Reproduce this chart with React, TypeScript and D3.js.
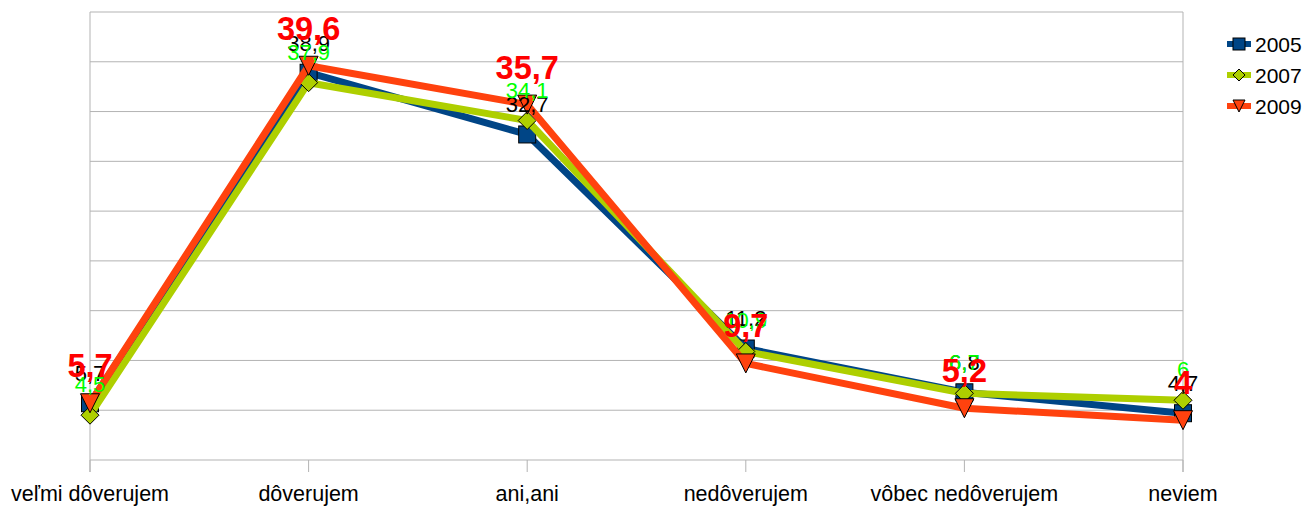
import React from "react";
import * as d3 from "d3";

const categories = ["veľmi dôverujem", "dôverujem", "ani,ani", "nedôverujem", "vôbec nedôverujem", "neviem"];
const years = ["2005", "2007", "2009"];
const values2005 = [5.7, 38.9, 32.7, 11.2, 6.8, 4.7];
const values2007 = [4.5, 37.9, 34.1, 10.9, 6.7, 6];
const values2009 = [5.7, 39.6, 35.7, 9.7, 5.2, 4];
const yTicks = [0, 5, 10, 15, 20, 25, 30, 35, 40, 45];

const W = 1307;
const H = 507;
const plot = { left: 90, right: 1183, top: 12, bottom: 460 };
const FONT = "'Liberation Sans', Arial, sans-serif";

const seriesStyle = [
  { color: "#004586", shape: "square", labelColor: "#000000", labelSize: 22, labelWeight: "normal", labelOffset: 22 },
  { color: "#aecf00", shape: "diamond", labelColor: "#00ff00", labelSize: 22, labelWeight: "normal", labelOffset: 23 },
  { color: "#ff420e", shape: "triangle", labelColor: "#ff0000", labelSize: 32.5, labelWeight: "bold", labelOffset: 26 },
];

function fmt(v: number) {
  return Number.isInteger(v) ? String(v) : String(v).replace(".", ",");
}

function Marker({ shape, x, y, color, s }: { shape: string; x: number; y: number; color: string; s: number }) {
  const h = s / 2;
  if (shape === "square") {
    return <rect x={x - h} y={y - h} width={s} height={s} fill={color} stroke="#000" strokeWidth={1} />;
  }
  if (shape === "diamond") {
    return (
      <path d={`M${x},${y - h} L${x + h},${y} L${x},${y + h} L${x - h},${y} Z`} fill={color} stroke="#000" strokeWidth={1} />
    );
  }
  return (
    <path d={`M${x - h},${y - h} L${x + h},${y - h} L${x},${y + h} Z`} fill={color} stroke="#000" strokeWidth={1} />
  );
}

export default function App() {
  const x = d3.scalePoint<string>().domain(categories).range([plot.left, plot.right]).padding(0);
  const y = d3.scaleLinear().domain([0, 45]).range([plot.bottom, plot.top]);
  const data = [values2005, values2007, values2009];
  const line = d3
    .line<number>()
    .x((_, i) => x(categories[i]) as number)
    .y((d) => y(d));

  const markerSizes = [17, 18, 19];

  return (
    <svg width={W} height={H} style={{ position: "absolute", left: 0, top: 0, background: "#fff" }} fontFamily={FONT}>
      <rect x={0} y={0} width={W} height={H} fill="#fff" />
      {yTicks.map((t) => (
        <line key={t} x1={plot.left} x2={plot.right} y1={y(t)} y2={y(t)} stroke="#b3b3b3" strokeWidth={1} />
      ))}
      <line x1={plot.left} x2={plot.left} y1={plot.top} y2={plot.bottom + 12} stroke="#b3b3b3" strokeWidth={1} />
      <line x1={plot.right} x2={plot.right} y1={plot.top} y2={plot.bottom + 12} stroke="#b3b3b3" strokeWidth={1} />
      {categories.map((c) => (
        <line key={c} x1={x(c)} x2={x(c)} y1={plot.bottom} y2={plot.bottom + 12} stroke="#b3b3b3" strokeWidth={1} />
      ))}
      {categories.map((c) => (
        <text key={c} x={x(c)} y={501} textAnchor="middle" fontSize={21.5} fill="#000">
          {c}
        </text>
      ))}
      {data.map((vals, si) => (
        <g key={si}>
          <path d={line(vals) || ""} fill="none" stroke={seriesStyle[si].color} strokeWidth={7} strokeLinejoin="round" />
          {vals.map((v, i) => (
            <Marker
              key={i}
              shape={seriesStyle[si].shape}
              x={x(categories[i]) as number}
              y={y(v)}
              color={seriesStyle[si].color}
              s={markerSizes[si]}
            />
          ))}
        </g>
      ))}
      {data.map((vals, si) => (
        <g key={"l" + si}>
          {vals.map((v, i) => (
            <text
              key={i}
              x={x(categories[i]) as number}
              y={y(v) - seriesStyle[si].labelOffset}
              textAnchor="middle"
              fontSize={seriesStyle[si].labelSize}
              fontWeight={seriesStyle[si].labelWeight}
              fill={seriesStyle[si].labelColor}
            >
              {fmt(v)}
            </text>
          ))}
        </g>
      ))}
      {years.map((yr, i) => {
        const cy = 44 + i * 31;
        return (
          <g key={yr}>
            <line x1={1227} x2={1251} y1={cy} y2={cy} stroke={seriesStyle[i].color} strokeWidth={6} />
            <Marker shape={seriesStyle[i].shape} x={1239} y={cy} color={seriesStyle[i].color} s={12} />
            <text x={1255} y={cy + 7.5} fontSize={21} fill="#000">
              {yr}
            </text>
          </g>
        );
      })}
    </svg>
  );
}
